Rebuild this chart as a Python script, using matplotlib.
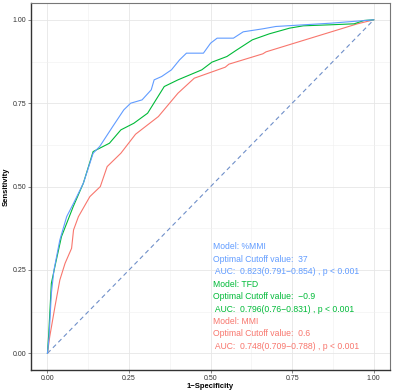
import matplotlib.pyplot as plt
from matplotlib.ticker import MultipleLocator

plt.rcParams['font.family'] = ['Liberation Sans', 'DejaVu Sans']

# ROC curves (1-specificity, sensitivity)
mmi_pct_fpr = [0, 0.005, 0.012, 0.02, 0.038, 0.059, 0.08, 0.11, 0.13, 0.14, 0.16, 0.20, 0.234,
               0.255, 0.29, 0.318, 0.327, 0.35, 0.38, 0.405, 0.426, 0.478, 0.50, 0.52, 0.57,
               0.60, 0.66, 0.70, 0.87, 1.0]
mmi_pct_tpr = [0, 0.05, 0.18, 0.25, 0.34, 0.41, 0.45, 0.51, 0.57, 0.60, 0.62, 0.68, 0.73,
               0.75, 0.76, 0.79, 0.82, 0.83, 0.85, 0.88, 0.90, 0.90, 0.93, 0.945, 0.945,
               0.964, 0.973, 0.98, 0.99, 1.0]

tfd_fpr = [0, 0.004, 0.012, 0.025, 0.043, 0.079, 0.11, 0.14, 0.19, 0.225, 0.265, 0.307,
           0.358, 0.40, 0.473, 0.504, 0.55, 0.576, 0.628, 0.68, 0.742, 0.784, 0.866, 0.94,
           0.97, 1.0]
tfd_tpr = [0, 0.06, 0.21, 0.27, 0.35, 0.44, 0.51, 0.605, 0.63, 0.67, 0.69, 0.72,
           0.80, 0.82, 0.85, 0.873, 0.89, 0.907, 0.94, 0.958, 0.975, 0.982, 0.985, 0.988,
           0.998, 1.0]

mmi_fpr = [0, 0.007, 0.023, 0.038, 0.054, 0.074, 0.08, 0.095, 0.13, 0.162, 0.183, 0.225,
           0.27, 0.34, 0.40, 0.45, 0.473, 0.545, 0.556, 0.66, 0.67, 0.95, 1.0]
mmi_tpr = [0, 0.05, 0.14, 0.22, 0.27, 0.315, 0.37, 0.41, 0.47, 0.50, 0.56, 0.60,
           0.657, 0.71, 0.78, 0.825, 0.833, 0.858, 0.867, 0.898, 0.904, 0.988, 1.0]

labels = ['Model: %MMI', 'Optimal Cutoff value:  37', ' AUC:  0.823(0.791\u22120.854) , p < 0.001',
          'Model: TFD', 'Optimal Cutoff value:  \u22120.9', ' AUC:  0.796(0.76\u22120.831) , p < 0.001',
          'Model: MMI', 'Optimal Cutoff value:  0.6', ' AUC:  0.748(0.709\u22120.788) , p < 0.001']

blue, green, red = '#619CFF', '#00BA38', '#F8766D'
label_colors = [blue] * 3 + [green] * 3 + [red] * 3

fig = plt.figure(figsize=(3.94, 3.92), dpi=100)
ax = fig.add_axes([0.079, 0.056, 0.911, 0.936])

ax.plot([0, 1], [0, 1], color='#6F8FC9', lw=0.8, ls=(0, (4, 3)))
ax.plot(mmi_fpr, mmi_tpr, color=red, lw=0.8)
ax.plot(tfd_fpr, tfd_tpr, color=green, lw=0.8)
ax.plot(mmi_pct_fpr, mmi_pct_tpr, color=blue, lw=0.8)

ax.set_xlim(-0.05, 1.05)
ax.set_ylim(-0.05, 1.05)
ax.xaxis.set_major_locator(MultipleLocator(0.25))
ax.yaxis.set_major_locator(MultipleLocator(0.25))
ax.xaxis.set_minor_locator(MultipleLocator(0.125))
ax.yaxis.set_minor_locator(MultipleLocator(0.125))
ax.grid(which='major', color='#E6E6E6', lw=0.6)
ax.grid(which='minor', color='#F0F0F0', lw=0.4)
ax.set_axisbelow(True)
ax.tick_params(which='minor', length=0)
ax.tick_params(which='major', length=2, width=0.5, color='#555555', labelsize=5,
               labelcolor='#333333', pad=1.5)
ax.set_xticks([0, 0.25, 0.5, 0.75, 1.0])
ax.set_xticklabels(['0.00', '0.25', '0.50', '0.75', '1.00'])
ax.set_yticks([0, 0.25, 0.5, 0.75, 1.0])
ax.set_yticklabels(['0.00', '0.25', '0.50', '0.75', '1.00'])

for side in ['left', 'bottom']:
    ax.spines[side].set_color('#333333')
    ax.spines[side].set_linewidth(1.0)
for side in ['top', 'right']:
    ax.spines[side].set_color('#777777')
    ax.spines[side].set_linewidth(0.8)

ax.set_xlabel('1\u2212Specificity', fontsize=5.5, fontweight='bold', labelpad=1)
ax.set_ylabel('Sensitivity', fontsize=5.5, fontweight='bold', labelpad=2)

y0 = 0.319
for i, (txt, c) in enumerate(zip(labels, label_colors)):
    ax.text(0.506, y0 - i * 0.0372, txt, color=c, fontsize=6.2, va='center', ha='left')

fig.savefig('out.png', dpi=100)
